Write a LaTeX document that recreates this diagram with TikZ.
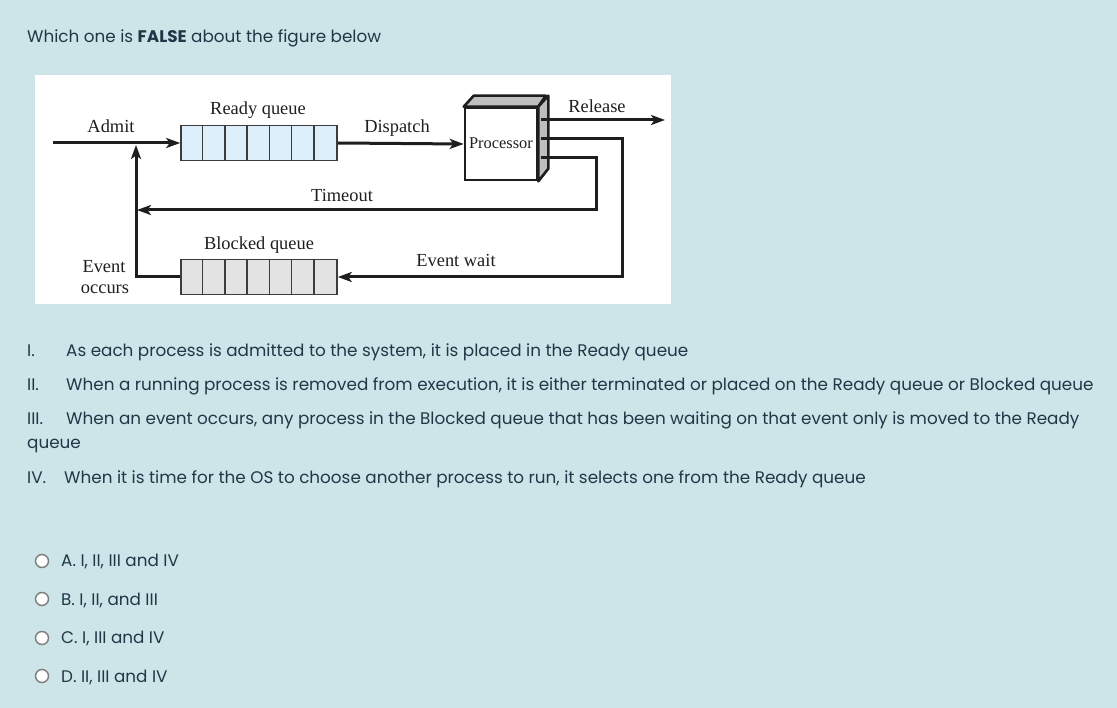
\documentclass[tikz,border=0pt]{standalone}
\usepackage{fontspec}
\setmainfont{Poppins}
\newfontfamily\diagfont{Liberation Serif}
\usetikzlibrary{arrows.meta,calc}
\definecolor{bgblue}{RGB}{205,229,233}
\definecolor{txt}{RGB}{32,56,70}
\definecolor{readyfill}{RGB}{222,239,252}
\definecolor{blockfill}{RGB}{227,227,227}
\definecolor{qline}{RGB}{60,60,60}
\definecolor{sideg}{RGB}{190,190,190}
\definecolor{radiog}{RGB}{128,128,128}
\definecolor{linec}{RGB}{30,30,30}
\tikzset{
  qtext/.style={anchor=base west,inner sep=0pt,text=txt,font=\fontsize{16.8}{19}\selectfont},
  lbl/.style={anchor=base,inner sep=0pt,text=black!88,font=\diagfont\fontsize{18.4}{20}\selectfont},
  conn/.style={draw=linec,line width=3.0pt,-{Stealth[length=14pt,width=10pt,inset=3.5pt]}},
  queuebox/.style={draw=qline,line width=1.6pt,minimum width=156pt,minimum height=35pt,inner sep=0pt},
  radio/.style={circle,draw=radiog,fill=white,line width=1.5pt,minimum size=13pt,inner sep=0pt}
}
\begin{document}
\begin{tikzpicture}[x=1pt,y=-1pt]
\useasboundingbox (0,0) rectangle (1117,708);
\fill[bgblue] (0,0) rectangle (1117,708);
% question
\node[qtext] (q) at (27,43) {Which one is {\bfseries FALSE} about the figure below};
% diagram panel
\fill[white] (35,75) rectangle (671,304);
% queues
\node[queuebox,fill=readyfill] (rq) at (259,143) {};
\node[queuebox,fill=blockfill] (bq) at (259,277) {};
\foreach \i in {1,...,6}{
  \draw[qline,line width=1.6pt] ($(rq.north west)+(\i*22.2857,0)$) -- ($(rq.south west)+(\i*22.2857,0)$);
  \draw[qline,line width=1.6pt] ($(bq.north west)+(\i*22.2857,0)$) -- ($(bq.south west)+(\i*22.2857,0)$);
}
% processor
\node[draw=linec,line width=2.6pt,fill=white,minimum width=72pt,minimum height=72pt,inner sep=0pt] (proc) at (501,144) {};
\filldraw[fill=sideg,draw=linec,line width=2.6pt,line join=round]
  (proc.north west) -- ++(10,-11) -- ++(72,0) -- (proc.north east) -- cycle;
\filldraw[fill=sideg,draw=linec,line width=2.6pt,line join=round]
  (proc.north east) -- ++(10,-11) -- ++(0,73) -- (proc.south east) -- cycle;
\node[anchor=base,inner sep=0pt,text=black!88,font=\diagfont\fontsize{16.4}{18}\selectfont] (ptext) at (501,149) {Processor};
% coordinates
\coordinate (admitStart) at (53,143);
\coordinate (joinA) at (136,145);
\coordinate (tEnd) at (137,210);
\coordinate (outR) at (541,120);
\coordinate (outE) at (541,139);
\coordinate (outT) at (541,158);
\coordinate (relEnd) at (665,120);
% connectors
\draw[conn] (admitStart) -- (rq.west);
\draw[conn] (rq.east) -- (proc.west);
\draw[conn] (outR) -- (relEnd);
\draw[conn] (outT) -- ++(55,0) -- ++(0,52) -- (tEnd);
\draw[conn] (outE) -- ++(81,0) |- (bq.east);
\draw[conn] (bq.west) -| (joinA);
% labels
\node[lbl] (lready) at (258,115) {Ready queue};
\node[lbl] (ladmit) at (111,133) {Admit};
\node[lbl] (ldisp) at (397,133) {Dispatch};
\node[lbl] (lrel) at (597,113) {Release};
\node[lbl] (ltime) at (342,202) {Timeout};
\node[lbl] (lblock) at (259,250) {Blocked queue};
\node[lbl] (lwait) at (456,267) {Event wait};
\node[lbl] (levent) at (104,273) {Event};
\node[lbl] (loccur) at (105,294) {occurs};
% statements
\node[qtext] (n1) at (27,357) {I.};
\node[qtext] (s1) at (66,357) {As each process is admitted to the system, it is placed in the Ready queue};
\node[qtext] (n2) at (27,391) {II.};
\node[qtext] (s2) at (66,391) {When a running process is removed from execution, it is either terminated or placed on the Ready queue or Blocked queue};
\node[qtext] (n3) at (27,425) {III.};
\node[qtext] (s3) at (66,425) {When an event occurs, any process in the Blocked queue that has been waiting on that event only is moved to the Ready};
\node[qtext] (s3b) at (27,449) {queue};
\node[qtext] (n4) at (27,483) {IV.};
\node[qtext] (s4) at (64,483) {When it is time for the OS to choose another process to run, it selects one from the Ready queue};
% options
\node[radio] (ra) at (42,561) {};
\node[qtext] (oa) at (61,566) {A. I, II, III and IV};
\node[radio] (rb) at (42,599) {};
\node[qtext] (ob) at (61,605) {B. I, II, and III};
\node[radio] (rc) at (42,638) {};
\node[qtext] (oc) at (61,643) {C. I, III and IV};
\node[radio] (rd) at (42,676) {};
\node[qtext] (od) at (61,682) {D. II, III and IV};
\end{tikzpicture}
\end{document}
